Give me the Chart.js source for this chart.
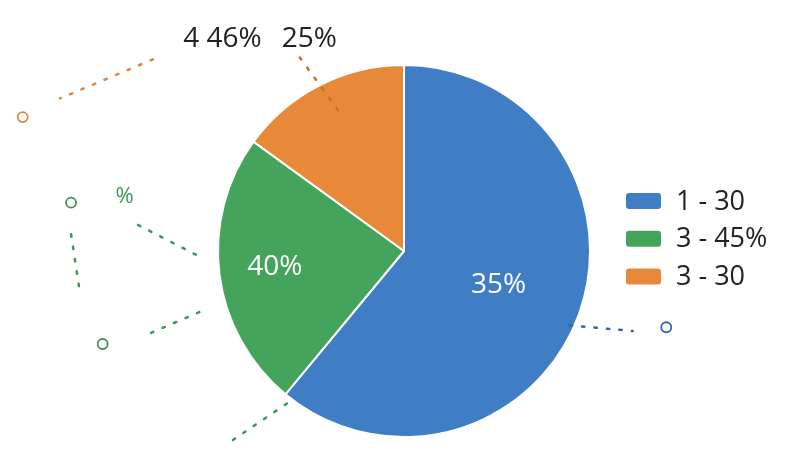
<!DOCTYPE html>
<html>
<head>
<meta charset="utf-8">
<script src="https://cdn.jsdelivr.net/npm/chart.js@4"></script>
<style>
  html, body { margin: 0; padding: 0; background: #fff; }
  #wrap { width: 800px; height: 450px; position: relative; }
</style>
</head>
<body>
<div id="wrap"><canvas id="pieChart"></canvas></div>
<script>
// Data
const categories = ["1 - 30", "3 - 45%", "3 - 30"];
const sliceValues = [61, 24, 15];
const sliceLabels = ["35%", "40%", "25%"];
const extraLabel = "4 46%";
const colors = ["#3f7ec5", "#45a45c", "#e8893a"];

const FONT = "'Open Sans', 'Noto Sans', sans-serif";

// label placement: angle offset from slice middle (deg) and distance as share of radius
const labelPlace = [
  { off: 0, dist: 0.54, color: "#ffffff" },
  { off: 0, dist: 0.70, color: "#ffffff" },
  { off: 3, dist: 1.25, color: "#222222" }
];

function polar(chart, angleDeg, dist) {
  const arc = chart.getDatasetMeta(0).data[0];
  const a = (angleDeg - 90) * Math.PI / 180;
  return { x: arc.x + Math.cos(a) * arc.outerRadius * dist, y: arc.y + Math.sin(a) * arc.outerRadius * dist };
}

// faint dotted leaders around the pie (relative to centre, in radius units)
const leaders = [
  { c: "#c46f2c", from: [-0.56, -1.04], to: [-0.35, -0.75] },
  { c: "#e0843a", from: [-1.35, -1.03], to: [-1.85, -0.82], ring: [-2.05, -0.72] },
  { c: "#2f69a8", from: [0.89, 0.40], to: [1.23, 0.43], ring: [1.41, 0.41] },
  { c: "#3e9555", from: [-1.43, -0.14], to: [-1.08, 0.04], ring: [-1.79, -0.26] },
  { c: "#3e9555", from: [-1.79, -0.09], to: [-1.74, 0.24] },
  { c: "#3e9555", from: [-1.36, 0.44], to: [-1.08, 0.32], ring: [-1.62, 0.50] },
  { c: "#3e9555", from: [-0.63, 0.82], to: [-0.94, 1.03] }
];

const piePlugin = {
  id: "pieDecor",
  afterDatasetsDraw(chart) {
    const ctx = chart.ctx;
    const meta = chart.getDatasetMeta(0);
    const c0 = meta.data[0];
    const R = c0.outerRadius;

    // leaders
    ctx.save();
    leaders.forEach(l => {
      ctx.strokeStyle = l.c;
      ctx.fillStyle = l.c;
      const x1 = c0.x + l.from[0] * R, y1 = c0.y + l.from[1] * R;
      const x2 = c0.x + l.to[0] * R, y2 = c0.y + l.to[1] * R;
      ctx.lineWidth = 2.5;
      ctx.setLineDash([2.5, 10]);
      ctx.lineCap = "round";
      ctx.beginPath();
      ctx.moveTo(x1, y1);
      ctx.lineTo(x2, y2);
      ctx.stroke();
      if (l.ring) {
        ctx.setLineDash([]);
        ctx.lineWidth = 1.8;
        ctx.beginPath();
        ctx.arc(c0.x + l.ring[0] * R, c0.y + l.ring[1] * R, 5, 0, Math.PI * 2);
        ctx.stroke();
      }
    });
    ctx.restore();

    // slice labels
    ctx.save();
    ctx.textAlign = "center";
    ctx.textBaseline = "middle";
    ctx.font = "28px " + FONT;
    meta.data.forEach((arc, i) => {
      const mid = ((arc.startAngle + arc.endAngle) / 2) * 180 / Math.PI + 90;
      const p = labelPlace[i];
      const pt = polar(chart, mid + p.off, p.dist);
      ctx.fillStyle = p.color;
      ctx.fillText(sliceLabels[i], pt.x, pt.y);
    });
    const pe = polar(chart, 319.4, 1.50);
    ctx.fillStyle = "#222222";
    ctx.fillText(extraLabel, pe.x, pe.y);
    ctx.font = "22px " + FONT;
    ctx.fillStyle = "#3e9555";
    const pp = polar(chart, 281, 1.53);
    ctx.fillText("%", pp.x, pp.y);
    ctx.restore();

    // legend
    ctx.save();
    ctx.textBaseline = "middle";
    ctx.textAlign = "left";
    ctx.font = "27px " + FONT;
    const lx = 626, ly = 201, gap = 37.8;
    categories.forEach((cat, i) => {
      const y = ly + i * gap;
      ctx.fillStyle = colors[i];
      ctx.beginPath();
      ctx.roundRect(lx, y - 8, 35, 16, 3);
      ctx.fill();
      ctx.fillStyle = "#222222";
      ctx.fillText(cat, lx + 50, y + 1);
    });
    ctx.restore();
  }
};

new Chart(document.getElementById("pieChart"), {
  type: "pie",
  data: {
    labels: categories,
    datasets: [{
      data: sliceValues,
      backgroundColor: colors,
      borderColor: "#ffffff",
      borderWidth: 2
    }]
  },
  options: {
    responsive: true,
    maintainAspectRatio: false,
    animation: false,
    layout: { padding: { left: 8, right: 0, top: 64, bottom: 12 } },
    plugins: {
      legend: { display: false },
      tooltip: { enabled: false }
    }
  },
  plugins: [piePlugin]
});
</script>
</body>
</html>
